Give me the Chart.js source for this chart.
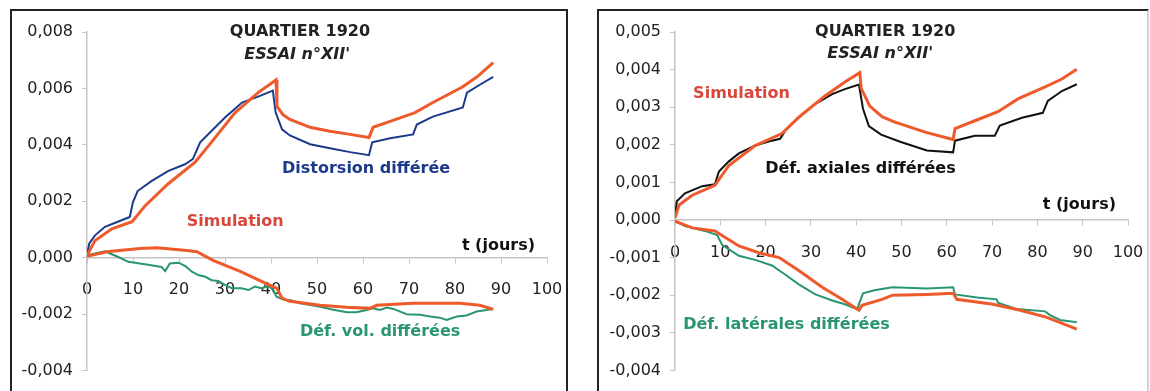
<!DOCTYPE html>
<html>
<head>
<meta charset="utf-8">
<script src="https://cdn.jsdelivr.net/npm/chart.js@4.4.1/dist/chart.umd.min.js"></script>
<style>
  body { margin: 0; background: #fff; width: 1150px; height: 391px; overflow: hidden; position: relative; }
  .cadre { position: absolute; box-sizing: border-box; border: 2px solid #222; }
  canvas { position: absolute; }
</style>
</head>
<body>
<div class="cadre" style="left:10px;top:9px;width:558px;height:384px"></div>
<div class="cadre" style="left:597px;top:9px;width:552px;height:384px;border-right-color:#d0d0d0"></div>
<canvas id="g1" width="553" height="378" style="left:12px;top:11px"></canvas>
<canvas id="g2" width="546" height="378" style="left:600px;top:11px"></canvas>

<script>
/* =========================
   Quartier 1920 - essai XII'
========================= */

// --- Graphique gauche : distorsion et déformations volumiques
const T_DIST = [0, 0.5, 1.7, 3.9, 6.7, 9.3, 10, 11, 14, 17.6, 21.3, 23, 24.6, 27, 30, 33.7, 37.2, 40.4, 41, 42.4, 44.1, 48.5, 52.8, 57.2, 61.3, 62, 65.9, 70.9, 71.7, 75.2, 81.7, 82.6, 85.4, 88.3];
const DIST = [0.0001, 0.0005, 0.00078, 0.00109, 0.00127, 0.00144, 0.00197, 0.00236, 0.00271, 0.00307, 0.00331, 0.00349, 0.00409, 0.00448, 0.00497, 0.0055, 0.00571, 0.00592, 0.00515, 0.00455, 0.00433, 0.00402, 0.00388, 0.00374, 0.00363, 0.00409, 0.00423, 0.00437, 0.00472, 0.005, 0.00532, 0.00585, 0.00613, 0.00641];

const T_DIST_SIM = [0, 1.7, 5.4, 9.8, 12.6, 17.6, 23.5, 27.2, 32.2, 37.2, 41.1, 41.3, 42.6, 44.1, 48.5, 52.8, 57.2, 61.3, 62.2, 65.9, 71.3, 75.2, 81.7, 84.8, 88.3];
const DIST_SIM = [0.00007, 0.0006, 0.00102, 0.00127, 0.00183, 0.00261, 0.00338, 0.00412, 0.00514, 0.00585, 0.0063, 0.00536, 0.00507, 0.0049, 0.00462, 0.00448, 0.00437, 0.00426, 0.00462, 0.00483, 0.00514, 0.0055, 0.00606, 0.00641, 0.00691];

const T_VOL = [0, 3.9, 6.8, 9, 10.4, 13.3, 16.2, 17, 18, 19.9, 21.3, 22.8, 24.2, 25.7, 27.1, 28.5, 30, 31.5, 33.6, 35.1, 36.5, 38, 39.4, 40.5, 41.2, 43, 44.1, 46.3, 50.7, 52.8, 55, 56.5, 58.6, 60.8, 62.2, 63.7, 65.2, 66.6, 69.5, 72.4, 74.6, 76.7, 78.2, 80.4, 82.5, 84.7, 86.9, 88.3];
const VOL = [0.00008, 0.00022, 0.00002, -0.00015, -0.00018, -0.00025, -0.00033, -0.00048, -0.00021, -0.00018, -0.00029, -0.0005, -0.00062, -0.00068, -0.0008, -0.00083, -0.00097, -0.00109, -0.00109, -0.00115, -0.00103, -0.00109, -0.001, -0.00115, -0.00139, -0.0015, -0.0015, -0.00162, -0.00174, -0.00182, -0.00189, -0.00194, -0.00194, -0.00186, -0.0018, -0.00186, -0.00177, -0.00182, -0.00201, -0.00203, -0.00209, -0.00213, -0.00221, -0.00209, -0.00205, -0.00191, -0.00186, -0.00182];

const T_VOL_SIM = [0, 4.3, 11.5, 15.2, 21.7, 23.9, 27.4, 33.3, 39, 41.3, 42.4, 44.1, 50.7, 56.5, 61.5, 63, 70.9, 81.1, 85.4, 88.3];
const VOL_SIM = [0.00005, 0.00021, 0.00032, 0.00035, 0.00025, 0.00021, -0.0001, -0.00049, -0.00092, -0.00109, -0.00144, -0.00155, -0.00169, -0.00176, -0.0018, -0.00169, -0.00162, -0.00162, -0.00169, -0.00183];

// --- Graphique droit : déformations axiales et latérales
const T_AX = [0, 0.4, 2.2, 6, 8.8, 9.7, 11.9, 14.1, 17.7, 21.4, 23.2, 24.3, 27.4, 31, 34.7, 37.5, 40.6, 41.5, 42.8, 45.5, 49.7, 55.6, 61.4, 61.8, 66.2, 70.6, 71.7, 76.6, 81.2, 82.3, 85.4, 88.7];
const AX = [0.00005, 0.0005, 0.00071, 0.0009, 0.00095, 0.00129, 0.00156, 0.00177, 0.00198, 0.00211, 0.00216, 0.00237, 0.00274, 0.00309, 0.00335, 0.00348, 0.0036, 0.00296, 0.0025, 0.00227, 0.00208, 0.00185, 0.0018, 0.00211, 0.00224, 0.00224, 0.00251, 0.00272, 0.00285, 0.00317, 0.00343, 0.00361];

const T_AX_SIM = [0, 0.9, 3.8, 8.8, 11.9, 17.7, 23.6, 27.4, 33.1, 37.5, 40.8, 41.1, 43, 45.7, 48.4, 55.4, 61.4, 61.8, 66.2, 71.3, 75.7, 81.7, 85.4, 88.7];
const AX_SIM = [0.00005, 0.0004, 0.00066, 0.00092, 0.00145, 0.00198, 0.0023, 0.00274, 0.0033, 0.00367, 0.00392, 0.0035, 0.00303, 0.00275, 0.00261, 0.00233, 0.00214, 0.00243, 0.00264, 0.00288, 0.00322, 0.00354, 0.00375, 0.00401];

const T_LAT = [0, 2.2, 6.6, 9.3, 10.4, 14.1, 17.7, 21.4, 24.3, 27.4, 31, 34.7, 37.5, 40.2, 41.5, 44, 48, 55.6, 61.4, 61.8, 66.7, 71, 71.3, 75.5, 81.7, 82.8, 85, 88.7];
const LAT = [-0.00003, -0.00016, -0.00029, -0.0004, -0.00066, -0.00095, -0.00106, -0.00121, -0.00145, -0.00172, -0.00198, -0.00214, -0.00224, -0.00237, -0.00195, -0.00187, -0.00179, -0.00182, -0.00179, -0.00198, -0.00206, -0.00211, -0.0022, -0.00237, -0.00243, -0.00253, -0.00266, -0.00272];

const T_LAT_SIM = [0, 3.8, 8.8, 14.1, 18.5, 23, 27.4, 32.5, 36.9, 40.6, 41.3, 45.7, 48, 55.6, 61.4, 62.2, 70.2, 76.2, 82.1, 88.7];
const LAT_SIM = [-0.00003, -0.00021, -0.00029, -0.00069, -0.00087, -0.001, -0.00135, -0.00179, -0.00211, -0.0024, -0.00227, -0.00211, -0.002, -0.00198, -0.00195, -0.00211, -0.00224, -0.0024, -0.00259, -0.0029];

const X_TICKS = { min: 0, max: 100, pas: 10 };

const ROUGE = '#ee5a2c';
const ROUGE_TEXTE = '#d8473a';
const BLEU = '#1c3a8c';
const VERT = '#2a9670';
const NOIR = '#111111';

Chart.defaults.font.family = 'DejaVu Sans';
Chart.defaults.color = '#222';

function points(t, v) {
  return t.map((x, i) => ({ x, y: v[i] }));
}

function serie(t, v, couleur, largeur) {
  return {
    data: points(t, v),
    borderColor: couleur,
    borderWidth: largeur,
    pointRadius: 0,
    tension: 0,
    fill: false
  };
}

// textes posés dans le repère des données
const notesPlugin = {
  id: 'notes',
  afterDatasetsDraw(chart, args, opts) {
    const ctx = chart.ctx;
    const sx = chart.scales.x, sy = chart.scales.y;
    ctx.save();
    ctx.textBaseline = 'middle';
    (opts.items || []).forEach(n => {
      ctx.font = `${n.style || ''} bold 16px "DejaVu Sans"`;
      ctx.fillStyle = n.couleur;
      ctx.textAlign = n.align || 'left';
      ctx.fillText(n.texte, sx.getPixelForValue(n.t), sy.getPixelForValue(n.v));
    });
    ctx.restore();
  }
};

function fmt(v) {
  if (Math.abs(v) < 1e-9) v = 0;
  return v.toFixed(3).replace('.', ',');
}

function options(ymin, ymax, ypas, notes, padDroite) {
  const gris = '#c4c4c4';
  return {
    responsive: false,
    animation: false,
    layout: { padding: { left: 0, right: padDroite, top: 21, bottom: 16 } },
    plugins: {
      legend: { display: false },
      tooltip: { enabled: false },
      notes: { items: notes }
    },
    scales: {
      x: {
        type: 'linear',
        position: { y: 0 },
        min: X_TICKS.min, max: X_TICKS.max,
        // l'axe est au milieu : on ne veut pas qu'il rogne la zone du graphe
        afterFit: s => { s.paddingLeft = 0; s.paddingRight = 0; },
        ticks: { stepSize: X_TICKS.pas, padding: 18, font: { size: 16 }, maxRotation: 0 },
        grid: { drawOnChartArea: false, drawTicks: true, tickLength: 5, color: gris },
        border: { color: gris, width: 1.5 }
      },
      y: {
        type: 'linear',
        position: 'left',
        min: ymin, max: ymax,
        afterFit: s => { s.width = 75; },
        ticks: { stepSize: ypas, padding: 9, font: { size: 16 }, callback: fmt },
        grid: { drawOnChartArea: false, drawTicks: true, tickLength: 5, color: gris },
        border: { color: gris, width: 1.5 }
      }
    }
  };
}

new Chart(document.getElementById('g1'), {
  type: 'line',
  data: {
    datasets: [
      serie(T_DIST_SIM, DIST_SIM, ROUGE, 3),
      serie(T_VOL_SIM, VOL_SIM, ROUGE, 3),
      serie(T_DIST, DIST, BLEU, 2),
      serie(T_VOL, VOL, VERT, 2)
    ]
  },
  options: options(-0.004, 0.008, 0.002, [
    { texte: 'QUARTIER 1920', t: 46.3, v: 0.008, couleur: '#222', align: 'center' },
    { texte: "ESSAI n°XII'", t: 45.7, v: 0.00719, couleur: '#222', align: 'center', style: 'italic' },
    { texte: 'Distorsion différée', t: 42.4, v: 0.00314, couleur: BLEU },
    { texte: 'Simulation', t: 21.7, v: 0.00127, couleur: ROUGE_TEXTE },
    { texte: 't (jours)', t: 81.5, v: 0.00042, couleur: '#111' },
    { texte: 'Déf. vol. différées', t: 46.3, v: -0.00264, couleur: VERT }
  ], 18),
  plugins: [notesPlugin]
});

new Chart(document.getElementById('g2'), {
  type: 'line',
  data: {
    datasets: [
      serie(T_AX_SIM, AX_SIM, ROUGE, 3),
      serie(T_LAT_SIM, LAT_SIM, ROUGE, 3),
      serie(T_AX, AX, NOIR, 2),
      serie(T_LAT, LAT, VERT, 2)
    ]
  },
  options: options(-0.004, 0.005, 0.001, [
    { texte: 'QUARTIER 1920', t: 46.4, v: 0.005, couleur: '#222', align: 'center' },
    { texte: "ESSAI n°XII'", t: 45.3, v: 0.00441, couleur: '#222', align: 'center', style: 'italic' },
    { texte: 'Simulation', t: 4.0, v: 0.00335, couleur: ROUGE_TEXTE },
    { texte: 'Déf. axiales différées', t: 19.9, v: 0.00137, couleur: '#111' },
    { texte: 't (jours)', t: 81.2, v: 0.0004, couleur: '#111' },
    { texte: 'Déf. latérales différées', t: 1.8, v: -0.0028, couleur: VERT }
  ], 18),
  plugins: [notesPlugin]
});
</script>
</body>
</html>
